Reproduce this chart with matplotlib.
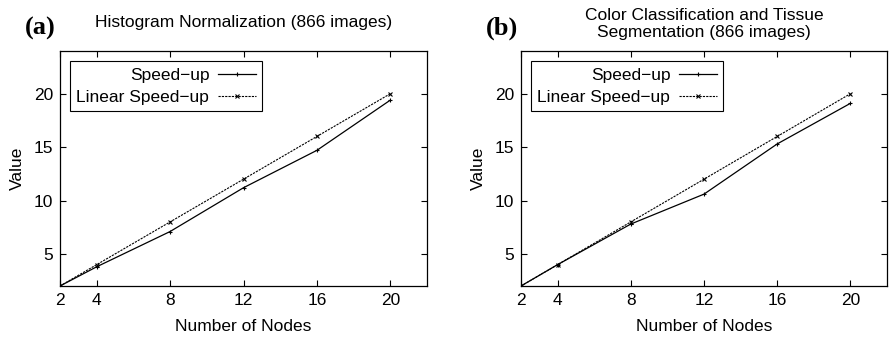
import matplotlib
matplotlib.use("Agg")
import matplotlib.pyplot as plt

plt.rcParams["font.family"] = ["Liberation Sans", "DejaVu Sans"]

nodes = [2, 4, 8, 12, 16, 20]
linear = [2, 4, 8, 12, 16, 20]
speedup_a = [2, 3.8, 7.1, 11.2, 14.7, 19.4]
speedup_b = [2, 4.0, 7.8, 10.6, 15.3, 19.1]

titles = ["Histogram Normalization (866 images)",
          "Color Classification and Tissue\nSegmentation (866 images)"]
panel_labels = ["(a)", "(b)"]
xticks = [2, 4, 8, 12, 16, 20]
yticks = [5, 10, 15, 20]

fig = plt.figure(figsize=(8.89, 3.4), dpi=100)
W, H = 889, 340
boxes = [(60, 51, 427, 286), (521, 51, 887, 286)]
fs = 12.5

for i, speed in enumerate([speedup_a, speedup_b]):
    x0, y0, x1, y1 = boxes[i]
    ax = fig.add_axes([x0 / W, 1 - y1 / H, (x1 - x0) / W, (y1 - y0) / H])
    ax.plot(nodes, speed, color="black", lw=0.9, marker="+", ms=3.5,
            mew=0.8, label="Speed\u2212up")
    ax.plot(nodes, linear, color="black", lw=0.8, ls=(0, (2, 1)), marker="x",
            ms=3, mew=0.8, label="Linear Speed\u2212up")
    ax.set_xlim(2, 22)
    ax.set_ylim(2, 24)
    ax.set_xticks(xticks)
    ax.set_yticks(yticks)
    ax.tick_params(direction="in", top=True, right=True, length=4,
                   width=0.8, labelsize=fs, pad=5)
    for s in ax.spines.values():
        s.set_linewidth(0.9)
    ax.set_xlabel("Number of Nodes", fontsize=fs, labelpad=8)
    ax.set_ylabel("Value", fontsize=fs, labelpad=6)
    ax.set_title(titles[i], fontsize=fs, pad=17 if i == 0 else 10,
                 linespacing=1.2)
    leg = ax.legend(loc="upper left", markerfirst=False, fontsize=fs,
                    fancybox=False, framealpha=1, edgecolor="black",
                    handlelength=2.2, borderpad=0.35, labelspacing=0.4,
                    handletextpad=0.5, borderaxespad=0.6)
    for t in leg.get_texts():
        t.set_ha("right")
    leg.get_frame().set_linewidth(0.8)
    fig.text((x0 - 35) / W, 1 - 28 / H, panel_labels[i], fontsize=19,
             fontweight="bold", family="Liberation Serif", va="center")

fig.savefig("out.png", dpi=100)
